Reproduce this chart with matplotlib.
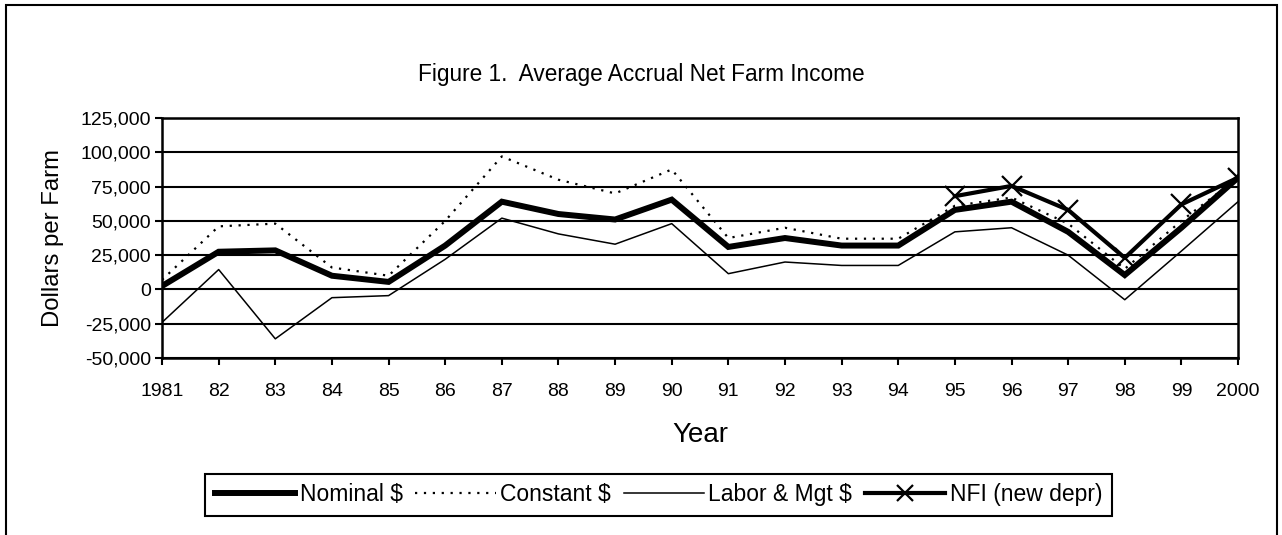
import numpy as np
import matplotlib
matplotlib.use("Agg")
import matplotlib.pyplot as plt
from matplotlib.patches import Rectangle
from matplotlib.ticker import FuncFormatter

plt.rcParams["font.family"] = ["Liberation Sans", "DejaVu Sans"]

years = ["1981", "82", "83", "84", "85", "86", "87", "88", "89", "90",
         "91", "92", "93", "94", "95", "96", "97", "98", "99", "2000"]

nominal = [2500, 27500, 28500, 10000, 5500, 32000, 64000, 55000, 51000, 65500,
           31000, 37500, 32000, 32000, 58000, 64000, 42000, 10500, 45000, 81500]
constant = [7000, 46000, 48000, 16000, 10000, 50000, 97000, 80000, 70000, 87500,
            37500, 45000, 37000, 37000, 61000, 67000, 48000, 15000, 50000, 81500]
labor_mgt = [-24000, 14500, -36000, -6000, -4500, 22000, 52000, 40500, 33000, 48000,
             11500, 20000, 17500, 17500, 42000, 45000, 25000, -7500, 28000, 64000]
nfi_years = ["95", "96", "97", "98", "99", "2000"]
nfi = [68000, 75500, 58000, 23000, 62000, 81500]

fig = plt.figure(figsize=(12.82, 5.35), dpi=100)
ax = fig.add_axes([0.1264, 0.3308, 0.8393, 0.4486])

x = np.arange(len(years))
x_nfi = np.array([years.index(y) for y in nfi_years])

for v in range(-50000, 125001, 25000):
    ax.axhline(v, color="black", lw=1.5, zorder=1)

ax.plot(x, nominal, color="black", lw=4.3, solid_joinstyle="miter", zorder=4, label="Nominal $")
ax.plot(x, constant, color="black", lw=1.6, ls=(0, (1, 3)), zorder=3, label="Constant $")
ax.plot(x, labor_mgt, color="black", lw=1.1, zorder=3, label="Labor & Mgt $")
ax.plot(x_nfi, nfi, color="black", lw=3.0, marker="x", markersize=15, mew=1.6,
        zorder=5, label="NFI (new depr)")

ax.set_xlim(0, len(years) - 1)
ax.set_ylim(-50000, 125000)
ax.set_xticks(x)
ax.set_xticklabels(years)
ax.set_yticks(np.arange(-50000, 125001, 25000))
ax.yaxis.set_major_formatter(FuncFormatter(lambda v, p: f"{int(v):,}"))
ax.tick_params(axis="both", labelsize=14, color="black", width=1.5, length=5)
ax.tick_params(axis="x", direction="out", pad=13)
ax.tick_params(axis="y", direction="out", pad=3)
for s in ax.spines.values():
    s.set_linewidth(1.8)
    s.set_color("black")

ax.set_xlabel("Year", fontsize=20, labelpad=16)
ax.set_ylabel("Dollars per Farm", fontsize=17.2, labelpad=12)
fig.text(0.5, 0.86, "Figure 1.  Average Accrual Net Farm Income",
         ha="center", va="center", fontsize=16.3)

leg = fig.legend(loc="center", bbox_to_anchor=(0.5137, 0.0748), ncol=4,
                 fontsize=16.5, frameon=True, fancybox=False, edgecolor="black",
                 framealpha=1, handlelength=3.5, handletextpad=0.2,
                 columnspacing=0.55, borderpad=0.42, markerscale=0.75)
leg.get_frame().set_linewidth(1.5)

fig.patches.append(Rectangle((0.005, -0.2), 0.991, 1.1907, transform=fig.transFigure,
                             fill=False, edgecolor="black", lw=1.5))

fig.savefig("out.png", dpi=100)
